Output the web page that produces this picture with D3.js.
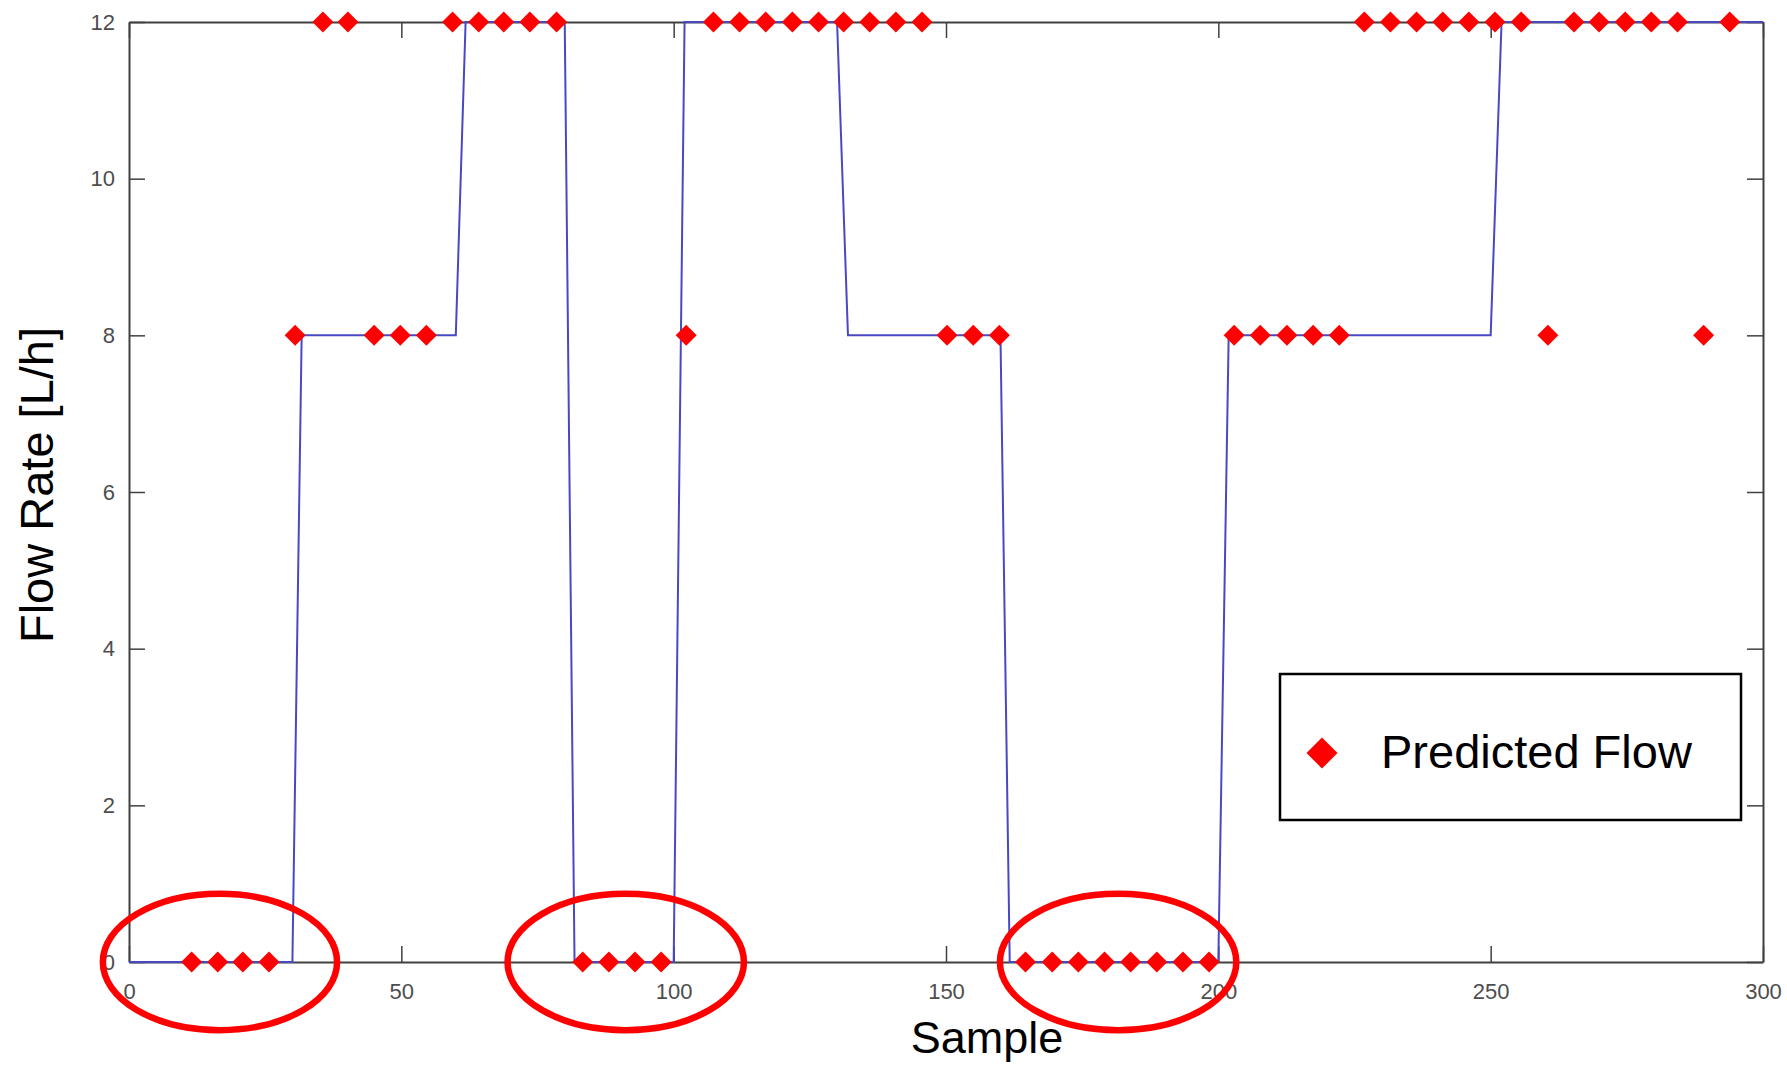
<!DOCTYPE html>
<html>
<head>
<meta charset="utf-8">
<script src="https://cdn.jsdelivr.net/npm/d3@7"></script>
<style>
  body { margin: 0; background: #fff; }
  svg { display: block; font-family: "Liberation Sans", Arial, sans-serif; }
</style>
</head>
<body>
<div id="chart"></div>
<script>
// true flow (blue step line): sample, flow
const trueSamples = [0, 30, 31.7, 60, 61.8, 80, 81.8, 100, 102, 130, 132, 160, 161.7, 200, 201.9, 250, 252, 300];
const trueFlow    = [0, 0, 8, 8, 12, 12, 0, 0, 12, 12, 8, 8, 0, 0, 8, 8, 12, 12];

// predicted flow (red diamonds)
const predSamples = [11.5, 16.3, 20.9, 25.7, 30.5, 35.6, 40.2, 45.0, 49.8, 54.6,
  59.4, 64.2, 68.8, 73.6, 78.5, 83.3, 88.1, 92.9, 97.7, 102.3,
  107.3, 112.1, 116.9, 121.8, 126.6, 131.2, 136.0, 140.8, 145.6, 150.2,
  155.0, 159.8, 164.6, 169.5, 174.3, 179.1, 183.9, 188.7, 193.5, 198.3,
  202.9, 207.7, 212.6, 217.4, 222.2, 226.8, 231.6, 236.4, 241.2, 246.0,
  250.8, 255.6, 260.5, 265.3, 269.9, 274.7, 279.5, 284.3, 289.1, 293.9];
const predFlow = [0, 0, 0, 0, 8, 12, 12, 8, 8, 8,
  12, 12, 12, 12, 12, 0, 0, 0, 0, 8,
  12, 12, 12, 12, 12, 12, 12, 12, 12, 8,
  8, 8, 0, 0, 0, 0, 0, 0, 0, 0,
  8, 8, 8, 8, 8, 12, 12, 12, 12, 12,
  12, 12, 8, 12, 12, 12, 12, 12, 8, 12];

// red annotation ellipses (data units)
const circleCx = [16.7, 91.2, 181.6];
const circleCy = [0, 0, 0];
const circleRx = [21.5, 21.7, 21.7];
const circleRy = [0.87, 0.87, 0.87];

const xTicks = [0, 50, 100, 150, 200, 250, 300];
const yTicks = [0, 2, 4, 6, 8, 10, 12];

const width = 1787, height = 1065;
const margin = { left: 129, right: 1787 - 1763, top: 22, bottom: 1065 - 962 };

const svg = d3.select('#chart').append('svg')
  .attr('width', width)
  .attr('height', height);

const x = d3.scaleLinear().domain([0, 300]).range([margin.left, width - margin.right]);
const y = d3.scaleLinear().domain([0, 12]).range([height - margin.bottom, margin.top]);

// axes (ticks inward, box on)
const axisColor = '#404040';
const tickLen = 16;

function styleAxis(g) {
  g.selectAll('path.domain').attr('stroke', axisColor).attr('stroke-width', 2);
  g.selectAll('.tick line').attr('stroke', axisColor).attr('stroke-width', 1.5);
  g.selectAll('.tick text')
    .attr('fill', '#4d4d4d')
    .style('font-size', '22px')
    .style('font-family', '"Liberation Sans", Arial, sans-serif');
}

svg.append('g')
  .attr('transform', `translate(0,${y(0)})`)
  .call(d3.axisBottom(x).tickValues(xTicks).tickSize(-tickLen).tickSizeOuter(0).tickPadding(21))
  .call(styleAxis);

svg.append('g')
  .attr('transform', `translate(${x(0)},0)`)
  .call(d3.axisLeft(y).tickValues(yTicks).tickSize(-tickLen).tickSizeOuter(0).tickPadding(14))
  .call(styleAxis);

svg.append('g')
  .attr('transform', `translate(0,${y(12)})`)
  .call(d3.axisTop(x).tickValues(xTicks).tickSize(-tickLen).tickSizeOuter(0).tickFormat(''))
  .call(styleAxis);

svg.append('g')
  .attr('transform', `translate(${x(300)},0)`)
  .call(d3.axisRight(y).tickValues(yTicks).tickSize(-tickLen).tickSizeOuter(0).tickFormat(''))
  .call(styleAxis);

// true flow line
const line = d3.line()
  .x(i => x(trueSamples[i]))
  .y(i => y(trueFlow[i]));

svg.append('path')
  .datum(d3.range(trueSamples.length))
  .attr('d', line)
  .attr('fill', 'none')
  .attr('stroke', '#4848c4')
  .attr('stroke-width', 2);

// diamond marker
function diamond(r) {
  return `M0,${-r}L${r},0L0,${r}L${-r},0Z`;
}

svg.append('g')
  .selectAll('path')
  .data(d3.range(predSamples.length))
  .join('path')
  .attr('transform', i => `translate(${x(predSamples[i])},${y(predFlow[i])})`)
  .attr('d', diamond(10.5))
  .attr('fill', '#ff0000');

// annotation ellipses
svg.append('g')
  .selectAll('ellipse')
  .data(d3.range(circleCx.length))
  .join('ellipse')
  .attr('cx', i => x(circleCx[i]))
  .attr('cy', i => y(circleCy[i]))
  .attr('rx', i => x(circleRx[i]) - x(0))
  .attr('ry', i => y(0) - y(circleRy[i]))
  .attr('fill', 'none')
  .attr('stroke', '#ff0000')
  .attr('stroke-width', 6.5);

// axis titles
svg.append('text')
  .attr('x', 987)
  .attr('y', 1053)
  .attr('text-anchor', 'middle')
  .style('font-size', '45px')
  .attr('fill', '#000')
  .text('Sample');

svg.append('text')
  .attr('transform', 'translate(53,485) rotate(-90)')
  .attr('text-anchor', 'middle')
  .style('font-size', '47px')
  .attr('fill', '#000')
  .text('Flow Rate [L/h]');

// legend
const legend = svg.append('g');
legend.append('rect')
  .attr('x', 1280)
  .attr('y', 674)
  .attr('width', 461)
  .attr('height', 146)
  .attr('fill', '#fff')
  .attr('stroke', '#000')
  .attr('stroke-width', 2.5);
legend.append('path')
  .attr('transform', 'translate(1322,753)')
  .attr('d', diamond(15.5))
  .attr('fill', '#ff0000');
legend.append('text')
  .attr('x', 1381)
  .attr('y', 768)
  .style('font-size', '47px')
  .attr('fill', '#000')
  .text('Predicted Flow');
</script>
</body>
</html>
